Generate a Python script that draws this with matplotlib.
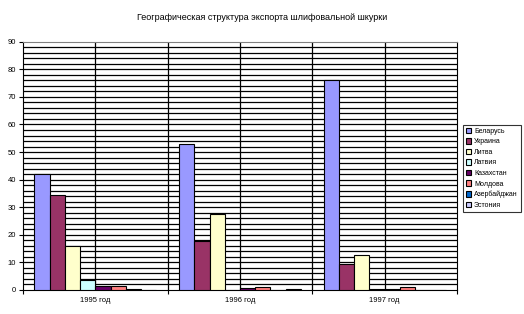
import matplotlib.pyplot as plt
import numpy as np

plt.rcParams['font.family'] = ['Liberation Sans', 'DejaVu Sans']

years = ['1995 год', '1996 год', '1997 год']
countries = ['Беларусь', 'Украина', 'Литва', 'Латвия', 'Казахстан',
             'Молдова', 'Азербайджан', 'Эстония']
colors = ['#9999FF', '#993366', '#FFFFCC', '#CCFFFF', '#660066',
          '#FF8080', '#0066CC', '#CCCCFF']

# values per country, one per year
belarus = [42.0, 52.8, 76.2]
ukraine = [34.3, 17.9, 9.3]
litva = [16.1, 27.5, 12.6]
latvia = [3.7, 0.0, 0.2]
kazakh = [1.4, 0.6, 0.2]
moldova = [1.6, 1.0, 1.0]
azerb = [0.3, 0.0, 0.0]
eston = [0.0, 0.3, 0.0]
series = [belarus, ukraine, litva, latvia, kazakh, moldova, azerb, eston]

fig = plt.figure(figsize=(5.24, 3.14), dpi=100)
ax = fig.add_axes([23/524, 24/314, 434/524, 248.3/314])

w = 1/9.5
for k, (name, vals, c) in enumerate(zip(countries, series, colors)):
    xs = np.arange(3) + 0.75*w + (k + 0.5)*w
    ax.bar(xs, vals, width=w, color=c, edgecolor='black', linewidth=0.8,
           label=name, zorder=3)

ax.set_xlim(0, 3)
ax.set_ylim(0, 90)
ax.set_yticks(np.arange(0, 91, 10))
ax.set_yticks(np.arange(0, 91, 2), minor=True)
ax.tick_params(axis='y', which='major', labelsize=5.5, length=3, width=0.8, pad=2)
ax.tick_params(axis='y', which='minor', length=0)
ax.set_xticks([0.5, 1.5, 2.5])
ax.set_xticklabels(years, fontsize=5.5)
ax.tick_params(axis='x', which='major', length=0, pad=5)
ax.set_xticks([0, 1, 2, 3], minor=True)
ax.tick_params(axis='x', which='minor', length=3, width=0.8)

for yv in np.arange(2, 89, 2):
    ax.axhline(yv, color='black', linewidth=0.9, zorder=1)
for xv in np.arange(0.5, 3, 0.5):
    ax.axvline(xv, color='black', linewidth=0.9, zorder=1)

ax.spines['top'].set_color('#808080')
ax.spines['right'].set_color('black')
for s in ax.spines.values():
    s.set_linewidth(0.8)

fig.text(0.5, 1 - 17/314, 'Географическая структура экспорта шлифовальной шкурки',
         ha='center', va='center', fontsize=6.5)

leg = fig.legend(loc='upper left', bbox_to_anchor=(463/524, 1 - 125/314),
                 fontsize=5, frameon=True, fancybox=False, edgecolor='black',
                 handlelength=0.8, handleheight=0.8, handletextpad=0.4,
                 labelspacing=0.5, borderpad=0.4, borderaxespad=0)
leg.get_frame().set_linewidth(0.8)

plt.savefig('out.png', dpi=100)
